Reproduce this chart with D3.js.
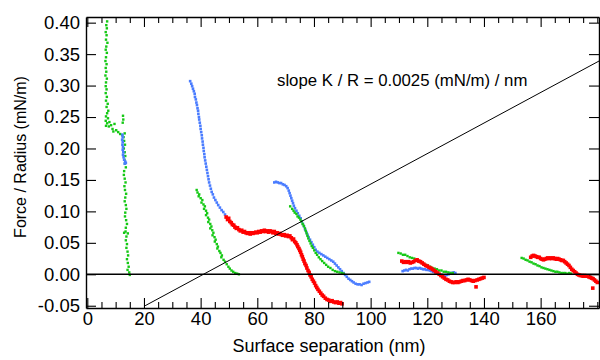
<!DOCTYPE html>
<html><head><meta charset="utf-8">
<script src="https://cdn.jsdelivr.net/npm/d3@7"></script>
<style>body{margin:0;background:#fff}svg{display:block}text{font-family:"Liberation Sans",Arial,sans-serif;fill:#000}</style>
</head><body><svg id="c" width="600" height="360"></svg>
<script>
// ---- data (Surface separation nm, Force/Radius mN/m) ----
const xMajorTicks = [0, 20, 40, 60, 80, 100, 120, 140, 160];
const xMinorTicks = [5,10,15,25,30,35,45,50,55,65,70,75,85,90,95,105,110,115,125,130,135,145,150,155,165,170,175,180];
const yTicks = [-0.05, 0.00, 0.05, 0.10, 0.15, 0.20, 0.25, 0.30, 0.35, 0.40];
const yTickLabels = ["-0.05","0.00","0.05","0.10","0.15","0.20","0.25","0.30","0.35","0.40"];
const xTitle = "Surface separation (nm)";
const yTitle = "Force / Radius (mN/m)";
const slopeText = "slope K / R = 0.0025 (mN/m) / nm";
const slopeLine = [[20.4, -0.05], [180.6, 0.339]];

const green1 = [[7.0,0.402],[6.7,0.396],[6.9,0.391],[6.5,0.385],[6.8,0.380],[6.6,0.373],[7.1,0.368],[6.7,0.362],[6.5,0.357],[6.9,0.352],[6.6,0.345],[6.4,0.339],[6.8,0.334],[6.5,0.328],[6.7,0.322],[6.4,0.316],[6.9,0.311],[6.6,0.305],[6.5,0.299],[6.8,0.294],[6.5,0.288],[6.9,0.282],[6.6,0.276],[7.2,0.271],[6.8,0.266],[7.4,0.260],[7.0,0.256],[6.6,0.251],[7.3,0.248],[6.5,0.244],[7.0,0.240],[7.8,0.242],[6.6,0.236],[7.6,0.235],[8.4,0.237],[8.9,0.231],[9.6,0.239],[10.2,0.229],[9.2,0.227],[10.9,0.226],[11.6,0.223],[12.3,0.221],[13.2,0.224],[12.8,0.218],[12.6,0.252],[12.7,0.246],[12.5,0.241],
[13.0,0.212],[13.3,0.206],[12.9,0.200],[13.2,0.194],[13.4,0.188],[13.1,0.182],[13.3,0.176],[13.6,0.170],[13.0,0.164],[12.9,0.158],[13.2,0.152],[13.5,0.146],[13.1,0.140],[13.3,0.134],[13.7,0.128],[13.4,0.122],[13.2,0.116],[13.6,0.110],[13.8,0.104],[13.4,0.098],[13.3,0.092],[13.7,0.086],[14.0,0.080],[13.6,0.074],[13.5,0.068],[13.0,0.066],[14.3,0.065],[13.8,0.060],[13.6,0.054],[14.0,0.048],[13.8,0.042],[14.2,0.036],[14.4,0.030],[14.0,0.024],[14.3,0.018],[14.6,0.012],[14.2,0.007],[14.8,0.003],[15.0,-0.001]];
const blue1 = [[12.4,0.222],[12.5,0.218],[12.3,0.214],[12.5,0.210],[12.4,0.206],[12.6,0.202],[12.5,0.198],[12.7,0.194],[12.6,0.190],[12.8,0.186],[13.0,0.182],[13.4,0.179],[13.6,0.177],[13.2,0.176]];
const blue2 = [[36.3,0.307],[36.7,0.303],[37.0,0.299],[37.3,0.295],[37.6,0.291],[37.9,0.287],[38.0,0.282],[38.3,0.278],[38.5,0.273],[38.7,0.269],[38.9,0.264],[39.1,0.260],[39.2,0.255],[39.4,0.250],[39.5,0.246],[39.7,0.241],[39.9,0.236],[40.0,0.231],[40.2,0.226],[40.4,0.221],[40.5,0.216],[40.7,0.211],[40.8,0.206],[41.0,0.201],[41.1,0.196],[41.3,0.191],[41.4,0.186],[41.6,0.181],[41.8,0.176],[42.0,0.171],[42.2,0.166],[42.4,0.161],[42.6,0.156],[42.8,0.151],[43.0,0.146],[43.3,0.141],[43.6,0.136],[43.9,0.131],[44.3,0.127],[44.7,0.122],[45.2,0.118],[45.7,0.114],[46.2,0.110],[46.8,0.106],[47.4,0.102],[48.0,0.099],[48.6,0.095]];
const red1 = [[49.0,0.091],[49.5,0.087],[49.9,0.089],[50.3,0.084],[50.8,0.082],[51.2,0.079],[51.7,0.078],[52.1,0.075],[52.6,0.073],[53.0,0.074],[53.5,0.071],[54.0,0.069],[54.5,0.070],[55.0,0.067],[55.5,0.068],[56.0,0.066],[56.5,0.065],[57.0,0.066],[57.5,0.064],[58.0,0.066],[58.5,0.065],[59.0,0.066],[59.5,0.067],[60.0,0.066],[60.5,0.068],[61.0,0.067],[61.5,0.069],[62.0,0.068],[62.5,0.070],[63.0,0.068],[63.5,0.069],[64.0,0.067],[64.5,0.069],[65.0,0.068],[65.5,0.066],[66.0,0.068],[66.5,0.065],[67.0,0.066],[67.5,0.064],[68.0,0.065],[68.5,0.063],[69.0,0.062],[69.5,0.063],[70.0,0.061],[70.5,0.062],[71.0,0.060],[71.5,0.061],[72.0,0.058],[72.4,0.055],[72.8,0.056],[73.2,0.052],[73.6,0.050],[74.0,0.047],[74.3,0.044],[74.7,0.041],[75.0,0.038],[75.3,0.035],[75.6,0.031],[75.9,0.028],[76.2,0.024],[76.5,0.021],[76.8,0.017],[77.2,0.014],[77.5,0.010],[77.9,0.006],[78.3,0.003],[78.6,-0.001],[79.0,-0.004],[79.4,-0.008],[79.8,-0.011],[80.2,-0.014],[80.6,-0.018],[81.0,-0.021],[81.4,-0.024],[81.9,-0.027],[82.4,-0.030],[82.9,-0.033],[83.4,-0.035],[84.0,-0.038],[84.6,-0.040],[85.2,-0.041],[85.8,-0.043],[86.4,-0.042],[87.0,-0.044],[87.6,-0.045],[88.2,-0.044],[88.8,-0.046],[89.4,-0.045],[89.9,-0.047]];
const green2 = [[38.6,0.134],[38.9,0.130],[39.5,0.127],[39.3,0.124],[40.0,0.121],[40.6,0.118],[40.3,0.114],[41.0,0.111],[41.5,0.108],[41.2,0.104],[41.9,0.101],[42.3,0.097],[41.9,0.094],[42.6,0.090],[43.0,0.087],[42.7,0.083],[43.4,0.080],[43.8,0.076],[43.4,0.073],[44.1,0.070],[44.5,0.066],[44.2,0.062],[44.9,0.059],[45.3,0.055],[45.0,0.052],[45.7,0.048],[46.1,0.044],[45.9,0.041],[46.6,0.037],[47.0,0.034],[47.5,0.030],[47.3,0.027],[48.1,0.023],[48.6,0.020],[49.2,0.016],[49.8,0.012],[50.3,0.009],[50.9,0.006],[51.5,0.004],[52.2,0.002],[52.9,0.001],[53.5,0.000]];
const blue3 = [[66.0,0.146],[66.6,0.147],[67.2,0.146],[67.8,0.145],[68.4,0.145],[69.0,0.143],[69.6,0.142],[70.2,0.140],[70.7,0.137],[71.1,0.133],[71.4,0.129],[71.7,0.125],[72.0,0.121],[72.3,0.117],[72.6,0.113],[72.9,0.109],[73.3,0.105],[73.8,0.101],[74.3,0.097],[74.8,0.093],[75.3,0.089],[75.7,0.084],[76.1,0.080],[76.5,0.076],[76.9,0.071],[77.3,0.067],[77.7,0.063],[78.1,0.059],[78.6,0.055],[79.1,0.051],[79.6,0.047],[80.1,0.043],[80.6,0.039],[81.2,0.036],[81.9,0.034],[82.6,0.032],[83.3,0.030],[84.0,0.028],[84.7,0.026],[85.4,0.024],[86.1,0.022],[86.8,0.020],[87.4,0.017],[88.0,0.014],[88.6,0.011],[89.2,0.008],[89.8,0.005],[90.4,0.002],[91.0,-0.001],[91.6,-0.004],[92.2,-0.007],[92.8,-0.009],[93.4,-0.011],[94.0,-0.013],[94.7,-0.015],[95.4,-0.016],[96.1,-0.016],[96.8,-0.017],[97.5,-0.015],[98.2,-0.014],[98.9,-0.013],[99.5,-0.012]];
const green3 = [[71.6,0.108],[72.3,0.104],[72.8,0.101],[73.2,0.098],[73.8,0.096],[74.2,0.092],[74.7,0.090],[75.2,0.087],[75.6,0.084],[76.0,0.080],[76.4,0.077],[76.8,0.073],[77.1,0.069],[77.4,0.065],[77.7,0.061],[78.0,0.057],[78.4,0.053],[78.8,0.049],[79.2,0.045],[79.6,0.042],[80.1,0.038],[80.6,0.034],[81.1,0.031],[81.7,0.027],[82.3,0.024],[82.9,0.021],[83.6,0.018],[84.3,0.015],[85.0,0.012],[85.8,0.010],[86.6,0.007],[87.4,0.005],[88.2,0.004],[89.0,0.003],[89.8,0.002],[90.5,0.001]];
const green4 = [[109.8,0.034],[110.6,0.033],[111.4,0.031],[112.2,0.031],[113.0,0.029],[113.8,0.027],[114.6,0.026],[115.4,0.025],[116.2,0.022],[117.0,0.020],[117.8,0.019],[118.6,0.017],[119.4,0.015],[120.2,0.014],[121.0,0.012],[121.8,0.010],[122.6,0.009],[123.4,0.008],[124.2,0.006],[125.0,0.006],[125.8,0.004],[126.6,0.004],[127.4,0.003],[128.2,0.002],[129.0,0.002]];
const red2 = [[111.0,0.021],[111.6,0.019],[112.2,0.020],[112.8,0.019],[113.4,0.020],[114.0,0.018],[114.6,0.019],[115.2,0.020],[115.8,0.022],[116.4,0.023],[117.0,0.021],[117.6,0.020],[118.2,0.018],[118.8,0.016],[119.4,0.014],[120.0,0.013],[120.6,0.011],[121.2,0.010],[121.8,0.008],[122.4,0.006],[123.0,0.004],[123.6,0.002],[124.2,0.000],[124.8,-0.002],[125.4,-0.004],[126.0,-0.006],[126.6,-0.008],[127.2,-0.009],[127.8,-0.011],[128.4,-0.012],[129.0,-0.013],[129.6,-0.013],[130.2,-0.012],[130.8,-0.013],[131.4,-0.012],[132.0,-0.011],[132.6,-0.010],[133.2,-0.010],[133.8,-0.009],[134.4,-0.008],[135.0,-0.009],[135.6,-0.010],[136.2,-0.011],[136.8,-0.010],[137.2,-0.020],[137.6,-0.009],[138.2,-0.008],[138.8,-0.007],[139.4,-0.006],[140.0,-0.005]];
const blue4 = [[111.3,0.005],[111.9,0.006],[112.5,0.007],[113.1,0.006],[113.7,0.008],[114.3,0.009],[114.9,0.009],[115.5,0.010],[116.1,0.010],[116.7,0.009],[117.3,0.010],[117.9,0.009],[118.5,0.008],[119.1,0.008],[119.7,0.007],[120.3,0.007],[120.9,0.006],[121.5,0.005],[122.1,0.004],[122.7,0.003],[123.3,0.002],[123.9,0.001],[124.5,0.000],[125.1,-0.001],[125.7,-0.002],[126.3,-0.003],[126.9,-0.001],[127.5,0.000],[128.1,0.002],[128.7,0.002],[129.3,0.003],[129.9,0.002]];
const green5 = [[153.3,0.026],[154.0,0.025],[154.7,0.023],[155.4,0.022],[156.1,0.020],[156.8,0.019],[157.5,0.017],[158.2,0.016],[158.9,0.014],[159.6,0.013],[160.3,0.011],[161.0,0.010],[161.7,0.009],[162.4,0.008],[163.1,0.007],[163.8,0.006],[164.5,0.005],[165.2,0.004],[165.9,0.004],[166.6,0.003],[167.3,0.002],[168.0,0.002],[168.7,0.002],[169.4,0.001],[170.1,0.002],[170.8,0.001]];
const red3 = [[156.5,0.027],[157.0,0.029],[157.5,0.030],[158.0,0.029],[158.5,0.028],[159.0,0.027],[159.5,0.027],[160.0,0.025],[160.5,0.024],[161.0,0.023],[161.5,0.024],[162.0,0.025],[162.5,0.026],[163.0,0.025],[163.5,0.026],[164.0,0.025],[164.5,0.026],[165.0,0.025],[165.5,0.024],[166.0,0.025],[166.5,0.024],[167.0,0.023],[167.5,0.022],[168.0,0.022],[168.5,0.020],[169.0,0.018],[169.5,0.016],[170.0,0.014],[170.5,0.011],[171.0,0.008],[171.5,0.006],[172.0,0.004],[172.5,0.002],[173.0,0.000],[173.5,-0.001],[174.0,-0.002],[174.5,-0.002],[175.0,-0.003],[175.5,-0.002],[176.0,-0.003],[176.5,-0.003],[177.0,-0.004],[177.5,-0.005],[178.0,-0.006],[178.4,-0.022],[178.5,-0.007],[179.0,-0.009],[179.5,-0.011],[180.0,-0.013]];

const series = [
  {data: green1, color: "#14c814", size: 2.4},
  {data: blue1,  color: "#4a7cff", size: 2.6},
  {data: blue2,  color: "#4a7cff", size: 2.6},
  {data: green2, color: "#14c814", size: 2.4},
  {data: blue3,  color: "#4a7cff", size: 2.6},
  {data: green3, color: "#14c814", size: 2.4},
  {data: red1,   color: "#ff0000", size: 3.6},
  {data: blue4,  color: "#4a7cff", size: 2.6},
  {data: green4, color: "#14c814", size: 2.4},
  {data: red2,   color: "#ff0000", size: 3.6},
  {data: green5, color: "#14c814", size: 2.4},
  {data: red3,   color: "#ff0000", size: 3.6}
];

// ---- layout ----
const L = 86, R = 599, T = 17, B = 308;
const x = d3.scaleLinear().domain([-0.46, 180.6]).range([L, R]);
const y = d3.scaleLinear().domain([-0.0536, 0.409]).range([B, T]);
const svg = d3.select("#c");

svg.append("defs").append("clipPath").attr("id","clip")
  .append("rect").attr("x",L).attr("y",T).attr("width",R-L).attr("height",B-T);

// marks
const plot = svg.append("g").attr("clip-path","url(#clip)");
series.forEach(s => {
  plot.append("g").selectAll("rect").data(s.data).join("rect")
    .attr("x", d => x(d[0]) - s.size/2)
    .attr("y", d => y(d[1]) - s.size/2)
    .attr("width", s.size).attr("height", s.size)
    .attr("fill", s.color);
});

// zero line and slope line
plot.append("line").attr("x1",L).attr("x2",R).attr("y1",y(0)).attr("y2",y(0))
  .attr("stroke","#000").attr("stroke-width",1.4);
plot.append("path").datum(slopeLine)
  .attr("d", d3.line().x(d=>x(d[0])).y(d=>y(d[1])))
  .attr("stroke","#000").attr("stroke-width",1).attr("fill","none");

// axes
function styleAxis(g){
  g.selectAll(".domain").attr("stroke","#000").attr("stroke-width",1.4);
  g.selectAll(".tick line").attr("stroke","#000").attr("stroke-width",1.1);
  g.selectAll("text").style("font-family","'Liberation Sans',Arial,sans-serif").style("font-size","18.5px").attr("fill","#000");
}
const gB = svg.append("g").attr("transform",`translate(0,${B})`)
  .call(d3.axisBottom(x).tickValues(xMajorTicks).tickSize(-10).tickSizeOuter(0).tickPadding(4).tickFormat(d3.format("d")));
styleAxis(gB);
const gBm = svg.append("g").attr("transform",`translate(0,${B})`)
  .call(d3.axisBottom(x).tickValues(xMinorTicks.filter(v=>x(v)<R-1)).tickSize(-6).tickSizeOuter(0).tickFormat(""));
styleAxis(gBm); gBm.select(".domain").remove();

const gT = svg.append("g").attr("transform",`translate(0,${T})`)
  .call(d3.axisTop(x).tickValues(xMajorTicks).tickSize(-10).tickSizeOuter(0).tickFormat(""));
styleAxis(gT);
const gTm = svg.append("g").attr("transform",`translate(0,${T})`)
  .call(d3.axisTop(x).tickValues(xMinorTicks.filter(v=>x(v)<R-1)).tickSize(-6).tickSizeOuter(0).tickFormat(""));
styleAxis(gTm); gTm.select(".domain").remove();

const gL = svg.append("g").attr("transform",`translate(${L},0)`)
  .call(d3.axisLeft(y).tickValues(yTicks).tickSize(-10).tickSizeOuter(0).tickPadding(6)
    .tickFormat((d,i)=>yTickLabels[i]));
styleAxis(gL);
const gR = svg.append("g").attr("transform",`translate(${R},0)`)
  .call(d3.axisRight(y).tickValues(yTicks).tickSize(-10).tickSizeOuter(0).tickFormat(""));
styleAxis(gR);

// titles
svg.append("text").attr("x",329).attr("y",352).attr("text-anchor","middle")
  .style("font-size","18px").text(xTitle);
svg.append("text").attr("transform","translate(26,157) rotate(-90)").attr("text-anchor","middle")
  .style("font-size","16px").text(yTitle);
svg.append("text").attr("x",277).attr("y",86)
  .style("font-size","16.8px").text(slopeText);
</script></body></html>
